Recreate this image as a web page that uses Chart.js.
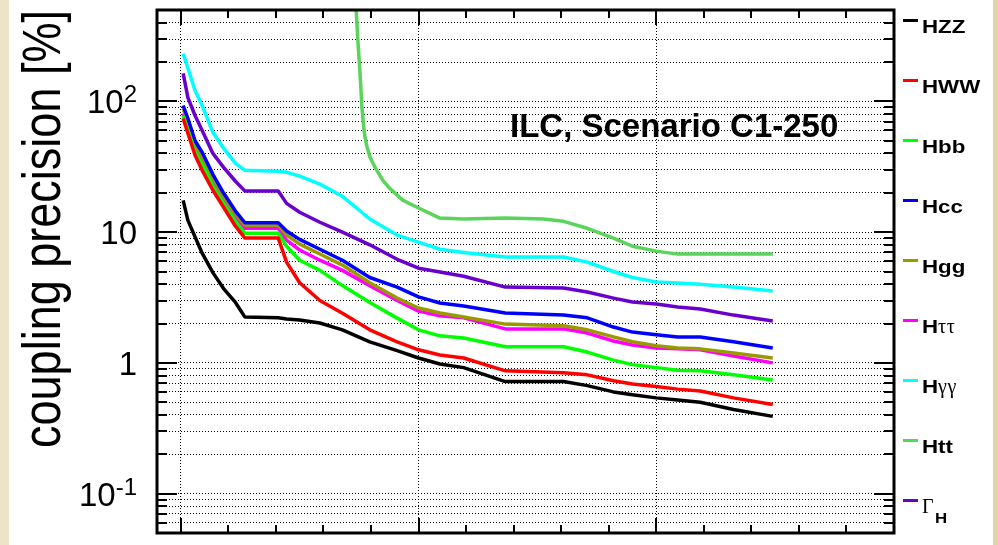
<!DOCTYPE html>
<html>
<head>
<meta charset="utf-8">
<script src="https://cdn.jsdelivr.net/npm/chart.js@4.4.0/dist/chart.umd.min.js"></script>
<style>
  html, body { margin: 0; padding: 0; overflow: hidden; background: #e8dcb5; }
  canvas { display: block; }
</style>
</head>
<body>
<canvas id="c" width="998" height="545"></canvas>
<script>
// Running time at which the projected coupling precisions are evaluated
const years = [0.1, 0.3, 0.6, 0.9, 1.35, 1.8, 2.3, 2.7, 4.1, 4.45, 5, 5.85, 6.8, 7.95, 9.1, 10, 10.9, 11.9, 13.65, 16.1, 17.1, 18.2, 19, 20, 20.9, 21.85, 23.25, 24.9];

// Coupling precision [%] per channel
const hzz      = [17.5, 12.3, 9.2, 6.9, 4.9, 3.7, 2.9, 2.24, 2.21, 2.17, 2.13, 2.02, 1.79, 1.45, 1.24, 1.09, 0.98, 0.92, 0.72, 0.72, 0.67, 0.6, 0.57, 0.54, 0.52, 0.5, 0.44, 0.39];
const hww      = [74, 57, 38.7, 29.7, 20.9, 15.5, 11.1, 9.0, 9.0, 5.9, 4.1, 3.0, 2.4, 1.79, 1.45, 1.26, 1.15, 1.09, 0.87, 0.84, 0.81, 0.73, 0.69, 0.66, 0.63, 0.61, 0.54, 0.48];
const hbb      = [78, 60, 41.5, 33, 22.5, 16.6, 12.1, 9.8, 9.8, 7.8, 6.1, 5.1, 3.9, 2.9, 2.2, 1.79, 1.61, 1.55, 1.33, 1.33, 1.21, 1.05, 0.97, 0.92, 0.88, 0.87, 0.81, 0.74];
const hcc      = [93, 74, 50, 40.8, 27.7, 19.9, 14.5, 11.8, 11.8, 10.2, 8.8, 7.4, 6.1, 4.5, 3.8, 3.2, 2.87, 2.72, 2.41, 2.32, 2.21, 1.88, 1.72, 1.64, 1.58, 1.58, 1.45, 1.3];
const hgg      = [88, 69, 47, 38, 25.8, 18.8, 13.7, 11.3, 11.3, 9.5, 8.1, 6.8, 5.6, 4.1, 3.13, 2.63, 2.41, 2.24, 1.98, 1.92, 1.79, 1.58, 1.45, 1.35, 1.3, 1.28, 1.19, 1.09];
const htautau  = [81, 63, 43, 35.5, 24.1, 17.8, 13.0, 10.7, 10.7, 8.7, 7.3, 6.1, 5.1, 3.9, 3.0, 2.49, 2.29, 2.21, 1.82, 1.82, 1.69, 1.47, 1.37, 1.3, 1.28, 1.26, 1.13, 1.0];
const hgamgam  = [232, 179, 121, 93, 58, 43.8, 33.6, 29.7, 29.2, 28.7, 26.8, 23.3, 18.8, 12.6, 9.5, 8.4, 7.4, 7.0, 6.45, 6.45, 5.9, 5.0, 4.5, 4.15, 4.08, 4.0, 3.8, 3.55];
const gammaH   = [164, 107, 78, 60, 40, 31.3, 24.5, 20.6, 20.6, 16.6, 14.2, 11.9, 10.0, 8.0, 6.2, 5.3, 4.95, 4.6, 3.8, 3.74, 3.48, 3.13, 2.92, 2.82, 2.68, 2.58, 2.32, 2.09];

// The top-Yukawa curve only starts once the higher-energy running begins
const httYears = [7.3, 7.45, 7.54, 7.62, 7.7, 7.75, 7.83, 7.96, 8.17, 8.5, 8.8, 9.35, 10, 10.9, 11.9, 13.65, 15.25, 16.1, 17.1, 18.2, 19, 20, 20.9, 21.85, 23.25, 24.9];
const htt      = [900, 292, 164, 90, 62, 53, 45.3, 37.4, 31.3, 24.9, 21.5, 17.5, 15.3, 12.8, 12.6, 12.8, 12.6, 12.1, 10.7, 9.0, 7.8, 7.16, 6.79, 6.79, 6.79, 6.79];

const seriesNames  = ['HZZ', 'HWW', 'Hbb', 'Hcc', 'Hgg', 'H\u03c4\u03c4', 'H\u03b3\u03b3', 'Htt', '\u0393'];
const seriesSubs   = ['', '', '', '', '', '', '', '', 'H'];
const seriesColors = ['#000000', '#ff0000', '#00ff00', '#0000ff', '#9a9a00', '#ff00ff', '#00ffff', '#5ad45a', '#6a00cc'];
const seriesX      = [years, years, years, years, years, years, years, httYears, years];
const seriesY      = [hzz, hww, hbb, hcc, hgg, htautau, hgamgam, htt, gammaH];

// Axis ranges and tick labels
const xMin = -1, xMax = 30;
const xMajorTicks = [0, 10, 20, 30];
const xMinorStep = 2;
const yMin = 0.05, yMax = 500;
const yLabelValues = [0.1, 1, 10, 100];
const yLabelBase   = ['10', '1', '10', '10'];
const yLabelExp    = ['-1', '', '', '2'];
const yTitle = 'coupling precision [%]';
const plotTitle = 'ILC, Scenario C1-250';

// every 1..9 x 10^n step inside the y range
const yGridValues = [];
for (let e = -2; e <= 2; e++) {
  for (let m = 1; m <= 9; m++) {
    const v = +(m * Math.pow(10, e)).toPrecision(3);
    if (v >= yMin - 1e-9 && v <= yMax + 1e-9) yGridValues.push(v);
  }
}
const isDecade = v => Math.abs(Math.log10(v) - Math.round(Math.log10(v))) < 1e-6;

const SANS = '"Liberation Sans", Arial, Helvetica, sans-serif';
const SERIF = '"Liberation Serif", "DejaVu Serif", serif';

function drawLegendText(ctx, text, x, base) {
  // Latin letters in bold sans, Greek letters in a light serif
  let cx = x;
  for (const ch of text) {
    ctx.save();
    if (/[\u0370-\u03ff]/.test(ch)) {
      ctx.font = '20px ' + SERIF;
      ctx.fillText(ch, cx, base);
      cx += ctx.measureText(ch).width + 0.5;
    } else {
      ctx.font = 'bold 18px ' + SANS;
      const w = ctx.measureText(ch).width * 1.24;
      ctx.translate(cx, base);
      ctx.scale(1.24, 1);
      ctx.fillText(ch, 0, 0);
      cx += w;
    }
    ctx.restore();
  }
  return cx;
}

const decor = {
  id: 'decor',
  beforeDraw(chart) {
    const { ctx, width, height } = chart;
    ctx.save();
    const g = ctx.createLinearGradient(0, 0, width, 0);
    g.addColorStop(0, '#ede4c8');
    g.addColorStop(1, '#e3d3a5');
    ctx.fillStyle = g;
    ctx.fillRect(0, 0, width, height);
    ctx.fillStyle = '#ffffff';
    ctx.fillRect(9, 0, 984, height);
    ctx.restore();
  },
  afterDraw(chart) {
    const { ctx, chartArea: a } = chart;
    const xs = chart.scales.x, ys = chart.scales.y;
    ctx.save();
    ctx.strokeStyle = '#000';
    ctx.fillStyle = '#000';

    // inward tick marks on all four sides
    ctx.lineWidth = 2;
    ctx.beginPath();
    for (let v = 0; v < xMax; v += xMinorStep) {
      const px = Math.round(xs.getPixelForValue(v));
      const len = xMajorTicks.includes(v) ? 15 : 8;
      ctx.moveTo(px, a.bottom); ctx.lineTo(px, a.bottom - len);
      ctx.moveTo(px, a.top);    ctx.lineTo(px, a.top + len);
    }
    for (const v of yGridValues) {
      if (v <= yMin || v >= yMax) continue;
      const py = Math.round(ys.getPixelForValue(v));
      const len = isDecade(v) ? 20 : 10;
      ctx.moveTo(a.left, py);  ctx.lineTo(a.left + len, py);
      ctx.moveTo(a.right, py); ctx.lineTo(a.right - len, py);
    }
    ctx.stroke();

    // frame
    ctx.lineWidth = 3;
    ctx.strokeRect(a.left, a.top, a.right - a.left, a.bottom - a.top);

    // y tick labels with exponents
    const labelRight = a.left - 20;
    yLabelValues.forEach((v, i) => {
      const py = ys.getPixelForValue(v);
      const base = py + 12;
      ctx.font = '24px ' + SANS;
      const wExp = yLabelExp[i] ? ctx.measureText(yLabelExp[i]).width : 0;
      ctx.font = '33px ' + SANS;
      const wBase = ctx.measureText(yLabelBase[i]).width;
      ctx.textAlign = 'left';
      ctx.fillText(yLabelBase[i], labelRight - wExp - wBase, base);
      if (yLabelExp[i]) {
        ctx.font = '24px ' + SANS;
        ctx.fillText(yLabelExp[i], labelRight - wExp, base - 11);
      }
    });

    // rotated y-axis title
    ctx.save();
    ctx.font = '53px ' + SANS;
    const tw = ctx.measureText(yTitle).width;
    ctx.translate(60, 448);
    ctx.rotate(-Math.PI / 2);
    ctx.scale(438 / tw, 1);
    ctx.textAlign = 'left';
    ctx.fillText(yTitle, 0, 0);
    ctx.restore();

    // scenario label
    ctx.font = 'bold 33px ' + SANS;
    ctx.fillText(plotTitle, 510, 137);

    // legend down the right-hand side
    seriesNames.forEach((name, i) => {
      const ly = 20 + i * 60;
      ctx.strokeStyle = seriesColors[i];
      ctx.lineWidth = 3;
      ctx.beginPath();
      ctx.moveTo(903, ly + 0.5);
      ctx.lineTo(918, ly + 0.5);
      ctx.stroke();
      ctx.fillStyle = '#000';
      const end = drawLegendText(ctx, name, 922, ly + 13);
      if (seriesSubs[i]) {
        ctx.save();
        ctx.font = 'bold 14px ' + SANS;
        ctx.translate(end + 1, ly + 23);
        ctx.scale(1.2, 1);
        ctx.fillText(seriesSubs[i], 0, 0);
        ctx.restore();
      }
    });
    ctx.restore();
  }
};

const datasets = seriesNames.map((name, i) => ({
  label: name + seriesSubs[i],
  data: seriesX[i].map((xv, j) => ({ x: xv, y: seriesY[i][j] })),
  borderColor: seriesColors[i],
  backgroundColor: seriesColors[i],
  borderWidth: 3.5,
  pointRadius: 0,
  tension: 0,
  fill: false,
  clip: 0,
  borderJoinStyle: 'round'
}));

new Chart(document.getElementById('c'), {
  type: 'line',
  data: { datasets },
  options: {
    responsive: false,
    animation: false,
    devicePixelRatio: 1,
    layout: { padding: { left: 157, top: 10, right: 104, bottom: 12 } },
    plugins: { legend: { display: false }, tooltip: { enabled: false } },
    scales: {
      x: {
        type: 'linear', min: xMin, max: xMax,
        afterBuildTicks: s => { s.ticks = xMajorTicks.map(v => ({ value: v })); },
        ticks: { display: false },
        grid: { color: '#000', lineWidth: 1, drawTicks: false },
        border: { display: false, dash: [1, 2] }
      },
      y: {
        type: 'logarithmic', min: yMin, max: yMax,
        afterBuildTicks: s => { s.ticks = yGridValues.map(v => ({ value: v })); },
        ticks: { display: false },
        grid: { color: '#000', lineWidth: 1, drawTicks: false },
        border: { display: false, dash: [1, 2] }
      }
    }
  },
  plugins: [decor]
});
</script>
</body>
</html>
